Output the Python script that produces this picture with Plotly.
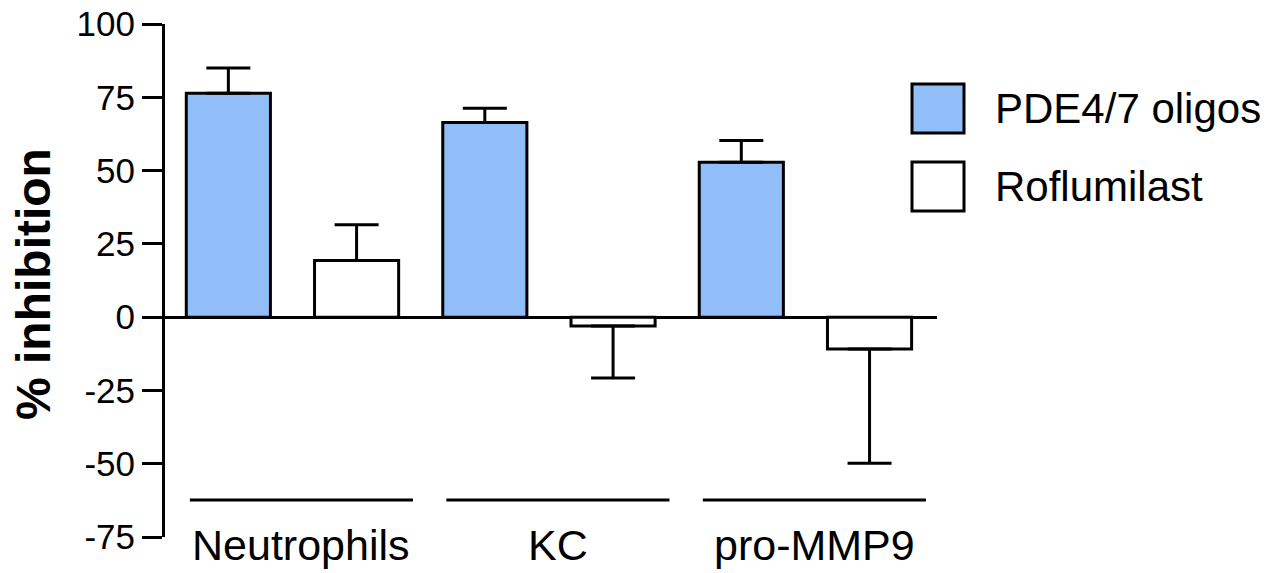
import plotly.graph_objects as go

# ---- data ----
categories = ["Neutrophils", "KC", "pro-MMP9"]
series_names = ["PDE4/7 oligos", "Roflumilast"]
pde_values = [76.4, 66.4, 52.8]
pde_err = [8.6, 4.9, 7.5]
rof_values = [19.3, -3.0, -10.9]
rof_err = [12.2, 17.8, 38.9]
y_ticks = [-75, -50, -25, 0, 25, 50, 75, 100]

# ---- layout geometry (screen pixels; page body has an 8px margin) ----
OFF = 8
WIN_W, WIN_H = 1268, 573
W, H = WIN_W - OFF, WIN_H - OFF
PLOT_L, PLOT_R, PLOT_T, PLOT_B = 165, 937, 24, 537   # plot area on screen
L, T = PLOT_L - OFF, PLOT_T - OFF
R, B = WIN_W - PLOT_R, WIN_H - PLOT_B
PW, PH = PLOT_R - PLOT_L, PLOT_B - PLOT_T


def px_x(p):
    return (p - PLOT_L) / PW


def px_y(p):
    return (PLOT_B - p) / PH


FONT = "Liberation Sans, Arial, Helvetica, sans-serif"
BLUE = "#91BEF8"


def one_sided(values, errs):
    up = [e if v >= 0 else 0 for v, e in zip(values, errs)]
    down = [e if v < 0 else 0 for v, e in zip(values, errs)]
    return up, down


fig = go.Figure()
for name, vals, errs, color in [
    (series_names[0], pde_values, pde_err, BLUE),
    (series_names[1], rof_values, rof_err, "white"),
]:
    up, down = one_sided(vals, errs)
    fig.add_trace(go.Bar(
        name=name, x=categories, y=vals,
        marker=dict(color=color, line=dict(color="black", width=3)),
        error_y=dict(type="data", symmetric=False, array=up, arrayminus=down,
                     color="black", thickness=3, width=22),
        showlegend=False,
    ))

shapes = []
annotations = []
# group underlines and category labels
for i, cat in enumerate(categories):
    shapes.append(dict(type="line", xref="x", yref="paper",
                       x0=i - 0.40, x1=i + 0.47, y0=px_y(500), y1=px_y(500),
                       line=dict(color="black", width=3)))
    annotations.append(dict(x=cat, xref="x", y=px_y(545), yref="paper",
                            text=cat, showarrow=False, xshift=9,
                            xanchor="center", yanchor="middle",
                            font=dict(family=FONT, size=43, color="black")))

# manual legend
legend_items = [(series_names[0], BLUE, 84, 133), (series_names[1], "white", 162, 211)]
for name, color, y0, y1 in legend_items:
    shapes.append(dict(type="rect", xref="paper", yref="paper",
                       x0=px_x(912), x1=px_x(964), y0=px_y(y1), y1=px_y(y0),
                       fillcolor=color, line=dict(color="black", width=3)))
    annotations.append(dict(x=px_x(993), xref="paper", y=px_y((y0 + y1) / 2), yref="paper",
                            text=name, showarrow=False, xanchor="left", yanchor="middle",
                            font=dict(family=FONT, size=42, color="black")))

# y-axis title
annotations.append(dict(x=px_x(33), xref="paper", y=px_y(284), yref="paper",
                        text="<b>% inhibition</b>", showarrow=False, textangle=-90,
                        xanchor="center", yanchor="middle",
                        font=dict(family=FONT, size=48, color="black")))

fig.update_layout(
    width=W, height=H,
    margin=dict(l=L, r=R, t=T, b=B, pad=0, autoexpand=False),
    paper_bgcolor="white", plot_bgcolor="white",
    barmode="group", bargap=0.0, bargroupgap=0.344,
    shapes=shapes, annotations=annotations,
    font=dict(family=FONT, color="black"),
)
fig.update_xaxes(range=[-0.497, 2.513], showticklabels=False, showline=False,
                 showgrid=False, zeroline=False, ticks="", automargin=False)
fig.update_yaxes(range=[-75, 100], tickvals=y_ticks, ticktext=[str(t) for t in y_ticks],
                 showline=True, linecolor="black", linewidth=3,
                 ticks="outside", ticklen=20, tickwidth=3, tickcolor="black",
                 tickfont=dict(family=FONT, size=35, color="black"),
                 ticklabeloverflow="allow",
                 showgrid=False, zeroline=True, zerolinecolor="black", zerolinewidth=3,
                 automargin=False)

fig.write_html("out.html")
